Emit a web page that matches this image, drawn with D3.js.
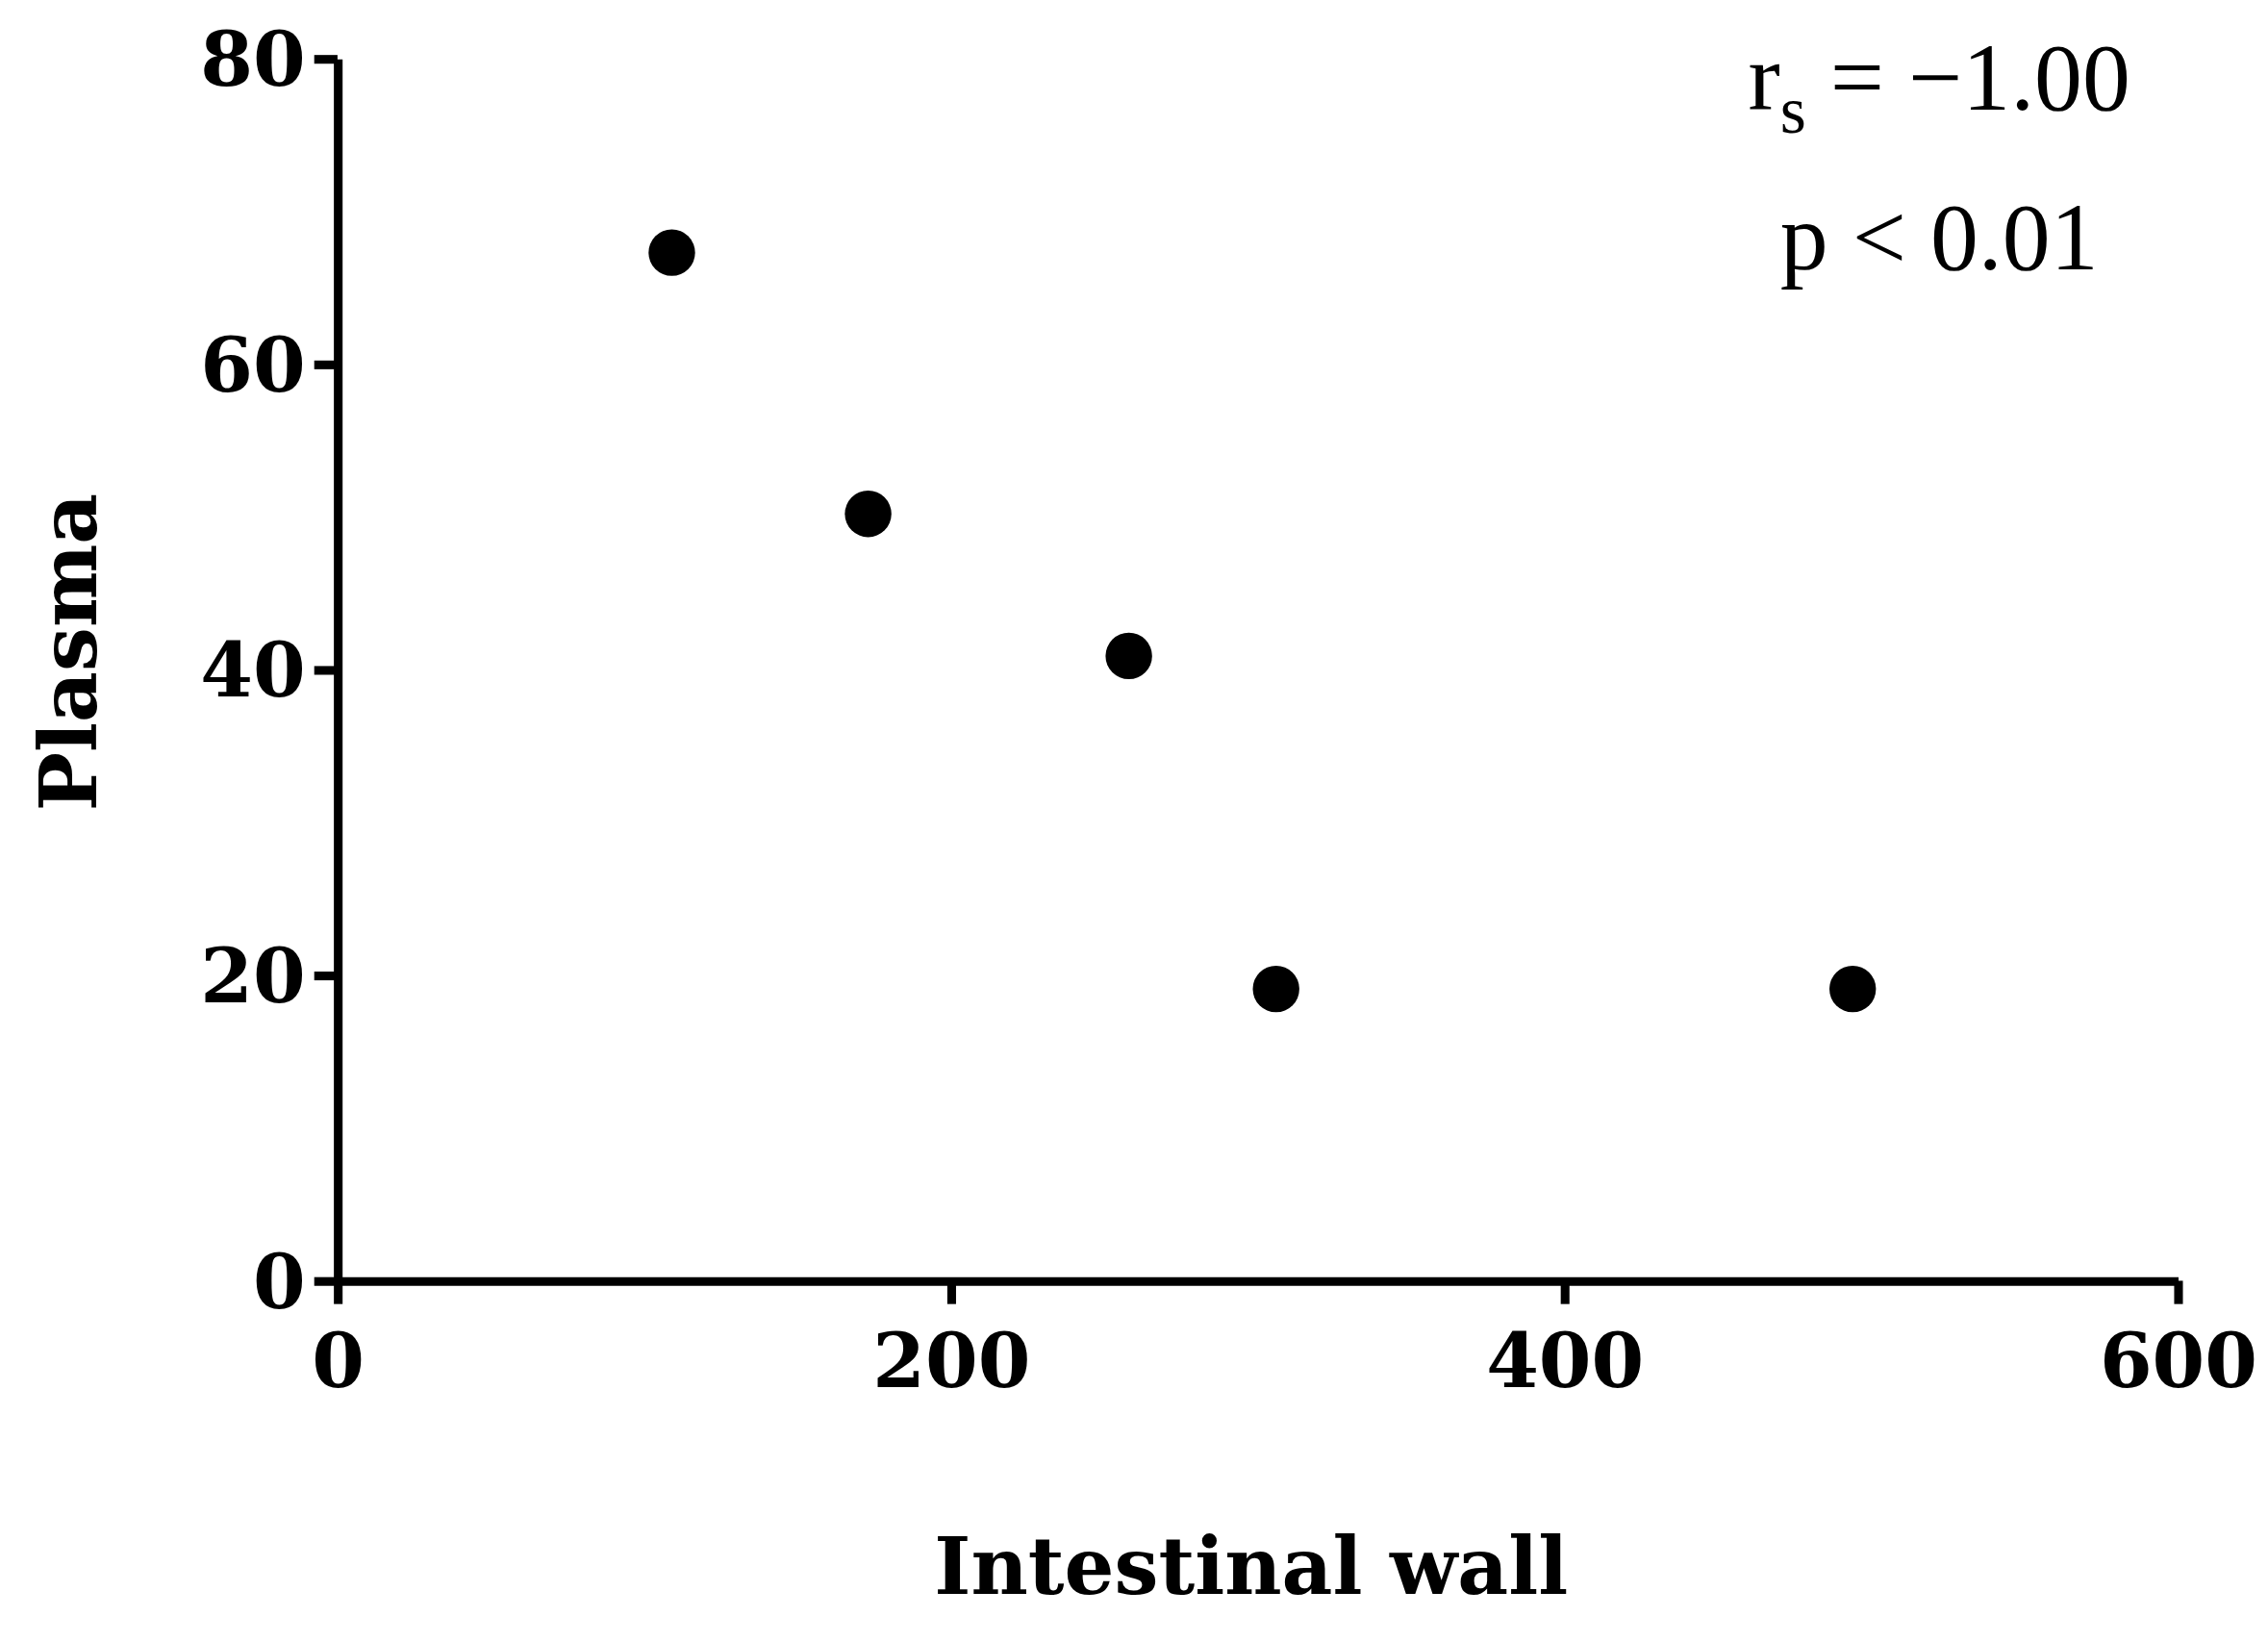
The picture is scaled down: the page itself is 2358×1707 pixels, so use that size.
<!DOCTYPE html>
<html><head><meta charset="utf-8">
<script src="https://cdn.jsdelivr.net/npm/d3@7"></script>
<style>body{margin:0;background:#fff}</style>
</head><body><div id="holder"></div>
<script>
// data
var intestinalWall = [109, 173, 258, 306, 494];
var plasma = [67.3, 50.2, 40.9, 19.1, 19.1];
var xTicks = [0, 200, 400, 600];
var yTicks = [0, 20, 40, 60, 80];

var W = 1559, H = 1128;
var svg = d3.select("#holder").append("svg")
  .attr("width", 2358).attr("height", 1707)
  .attr("viewBox", "0 0 " + W + " " + H);

var x = d3.scaleLinear().domain([0, 600]).range([232, 1497]);
var y = d3.scaleLinear().domain([0, 80]).range([880, 40]);
var font = "'DejaVu Serif', 'Liberation Serif', serif";
var font2 = "'Liberation Serif', serif";

var xa = svg.append("g").attr("transform", "translate(0,880)")
  .call(d3.axisBottom(x).tickValues(xTicks).tickSize(16).tickPadding(20).tickSizeOuter(0));
var ya = svg.append("g").attr("transform", "translate(232,0)")
  .call(d3.axisLeft(y).tickValues(yTicks).tickSize(16).tickPadding(6).tickSizeOuter(0));

[xa, ya].forEach(function(a){
  a.selectAll("path,line").attr("stroke", "#000").attr("stroke-width", 6);
  a.selectAll("text").attr("font-family", font).attr("font-weight", "bold")
    .attr("font-size", 52).attr("fill", "#000");
});
ya.selectAll("text").attr("dy", "0.35em");
xa.selectAll("text").attr("dy", "0.71em");

svg.selectAll("circle.pt").data(intestinalWall).enter().append("circle")
  .attr("class", "pt")
  .attr("cx", function(d){ return x(d); })
  .attr("cy", function(d, i){ return y(plasma[i]); })
  .attr("r", 16).attr("fill", "#000");

svg.append("text").attr("x", 860).attr("y", 1095).attr("text-anchor", "middle")
  .attr("font-family", font).attr("font-weight", "bold").attr("font-size", 54)
  .text("Intestinal wall");
svg.append("text").attr("transform", "translate(66,448) rotate(-90)")
  .attr("text-anchor", "middle")
  .attr("font-family", font).attr("font-weight", "bold").attr("font-size", 54)
  .text("Plasma");

var ann = svg.append("text").attr("x", 1333).attr("y", 75).attr("text-anchor", "middle")
  .attr("font-family", font2).attr("font-size", 66);
ann.append("tspan").text("r");
ann.append("tspan").attr("dy", 16).attr("font-size", 46).text("s");
ann.append("tspan").attr("dy", -16).text(" = \u22121.00");
svg.append("text").attr("x", 1333).attr("y", 185).attr("text-anchor", "middle")
  .attr("font-family", font2).attr("font-size", 66).text("p < 0.01");
</script></body></html>
